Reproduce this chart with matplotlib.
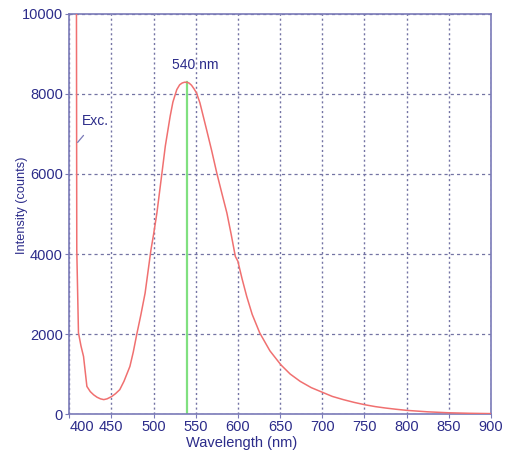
import numpy as np
import matplotlib
matplotlib.use("Agg")
import matplotlib.pyplot as plt

# emission spectrum
wavelength = [408.5, 409.0, 411, 414, 417, 421, 425, 429, 433, 437, 441, 445, 450.6,
              455, 460, 465, 472, 476, 480, 485, 490, 497, 500, 504, 510, 514,
              519.7, 523, 527.6, 531, 534, 537, 539.5, 542, 545, 548, 551, 555,
              559, 563, 569, 575, 581, 587, 592, 597, 600, 605, 610.5, 617, 626,
              638, 651, 662, 674, 687, 700.6, 712, 725, 738, 751, 763, 775, 788,
              801, 825, 851, 875, 900]
intensity = [12000, 4100, 2030, 1700, 1440, 690, 560, 480, 420, 380, 360, 380, 440,
             510, 610, 820, 1190, 1550, 1980, 2480, 3020, 4110, 4480, 5025, 6025, 6700,
             7440, 7800, 8110, 8230, 8275, 8295, 8290, 8275, 8220, 8130, 8025, 7780,
             7440, 7100, 6580, 6025, 5520, 5025, 4500, 3940, 3820, 3380, 2940, 2490, 2025,
             1580, 1230, 1000, 815, 660, 540, 440, 360, 290, 230, 185, 150, 118,
             90, 55, 30, 18, 10]

peak_wl = 540
peak_int = 8290
xticks = [400, 450, 500, 550, 600, 650, 700, 750, 800, 850, 900]
yticks = [0, 2000, 4000, 6000, 8000, 10000]

plt.rcParams['font.family'] = ['Liberation Sans', 'DejaVu Sans']
navy = '#2c2c8a'
frame = '#7a7ab8'

fig = plt.figure(figsize=(5.05, 4.51), dpi=100)
ax = fig.add_axes([0.137, 0.082, 0.835, 0.887])

ax.plot(wavelength, intensity, color='#f07070', lw=1.1, zorder=3)
ax.plot([peak_wl, peak_wl], [0, peak_int], color='#80e080', lw=1.6, zorder=2)

ax.set_xlim(400, 900)
ax.set_ylim(0, 10000)
ax.set_xticks(xticks)
ax.set_yticks(yticks)
ax.xaxis.grid(True, color='#7474a4', linestyle=(0, (1.5, 2)), lw=1.0)
ax.yaxis.grid(True, color='#7474a4', linestyle=(0, (2.5, 2.5)), lw=0.9)

for s in ax.spines.values():
    s.set_color(frame)
    s.set_linewidth(1.2)
ax.tick_params(colors=frame, labelcolor=navy, labelsize=10.5, length=3, pad=1.5)
ax.get_xticklabels()[0].set_horizontalalignment('left')

ax.set_xlabel('Wavelength (nm)', color=navy, fontsize=10.5)
ax.set_ylabel('Intensity (counts)', color=navy, fontsize=9.2)
ax.xaxis.set_label_coords(0.408, -0.054)
ax.yaxis.set_label_coords(-0.098, 0.523)

ax.text(550, 8730, '540 nm', color=navy, fontsize=10, ha='center', va='center')
ax.annotate('Exc.', xy=(410, 6790), xytext=(431, 7315), color=navy, fontsize=10,
            ha='center', va='center',
            arrowprops=dict(arrowstyle='-', color=frame, lw=0.9, shrinkA=4, shrinkB=0))

fig.savefig('out.png', dpi=100)
